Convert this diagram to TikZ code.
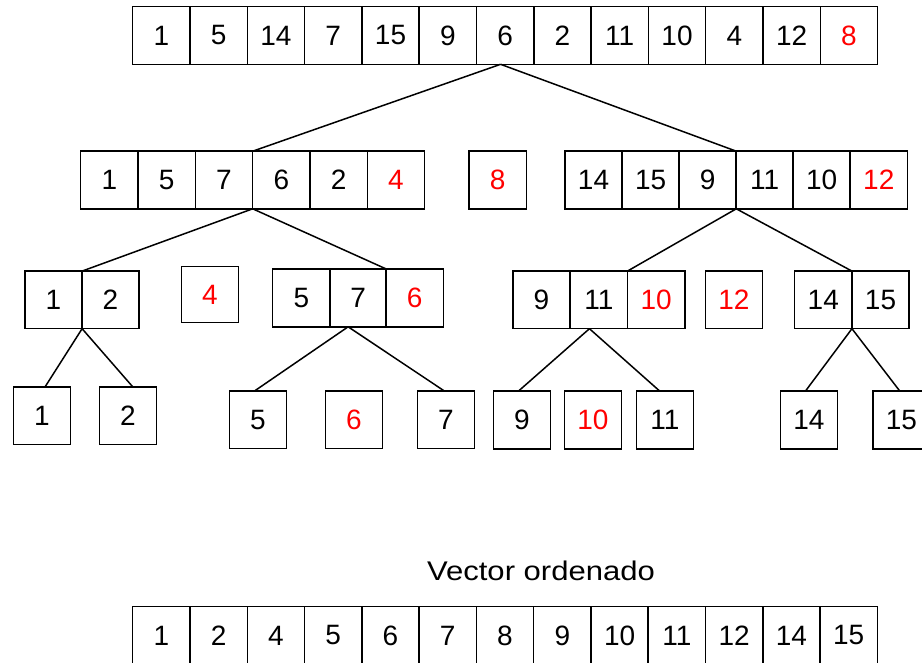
\documentclass[tikz,border=0pt]{standalone}
\usepackage{fontspec}
\usepackage{graphicx}
\setmainfont{Liberation Sans}
\newcommand\cellfont{\fontsize{28}{30}\selectfont}
\newcommand\titlefont{\fontsize{27}{30}\selectfont}
\definecolor{pivot}{RGB}{255,0,0}
\tikzset{
  cell/.style={draw, line width=1.5pt, minimum width=57.3pt, minimum height=57.6pt,
               inner sep=0pt, outer sep=0pt, font=\cellfont},
  link/.style={line width=1.5pt},
}
\begin{document}
\begin{tikzpicture}[x=1pt,y=-1pt]
\useasboundingbox (0,0) rectangle (922,663);
\clip (0,0) rectangle (922,663);

% input vector
\foreach \v/\c [count=\i] in {1/black,5/black,14/black,7/black,15/black,9/black,6/black,2/black,11/black,10/black,4/black,12/black,8/pivot}
  \node[cell, text=\c] (T-\i) at ({132.7+(\i-0.5)*57.3},35.5) {\v};

% first partition
\foreach \v/\c [count=\i] in {1/black,5/black,7/black,6/black,2/black,4/pivot}
  \node[cell, text=\c] (L-\i) at ({80.7+(\i-0.5)*57.33},180) {\v};
\node[cell, text=pivot] (P8) at (497.7,180) {8};
\foreach \v/\c [count=\i] in {14/black,15/black,9/black,11/black,10/black,12/pivot}
  \node[cell, text=\c] (R-\i) at ({565+(\i-0.5)*57.05},180) {\v};

% second partition
\foreach \v/\c [count=\i] in {1/black,2/black}
  \node[cell, text=\c] (A-\i) at ({25+(\i-0.5)*56.9},299.9) {\v};
\node[cell, text=pivot, minimum height=56pt] (P4) at (209.9,294.7) {4};
\foreach \v/\c [count=\i] in {5/black,7/black,6/pivot}
  \node[cell, text=\c] (B-\i) at ({273+(\i-0.5)*56.7},298) {\v};
\foreach \v/\c [count=\i] in {9/black,11/black,10/pivot}
  \node[cell, text=\c] (C-\i) at ({512.7+(\i-0.5)*57.4},299.9) {\v};
\node[cell, text=pivot] (P12) at (733.9,299.9) {12};
\foreach \v/\c [count=\i] in {14/black,15/black}
  \node[cell, text=\c] (E-\i) at ({794.7+(\i-0.5)*57.2},299.9) {\v};

% single elements
\node[cell] (S1) at (41.9,415.9) {1};
\node[cell] (S2) at (127.9,415.9) {2};
\node[cell] (S5) at (257.9,419.9) {5};
\node[cell, text=pivot] (S6) at (354,419.9) {6};
\node[cell] (S7) at (446,419.9) {7};
\node[cell] (S9) at (521.9,420) {9};
\node[cell, text=pivot] (S10) at (592.9,420) {10};
\node[cell] (S11) at (664.9,420) {11};
\node[cell] (S14) at (808.9,420) {14};
\node[cell] (S15) at (901.4,420) {15};

% recursion links
\draw[link] (T-7.261) -- (L-3.north east);
\draw[link] (T-7.261) -- (R-3.north east);
\draw[link] (L-3.south east) -- (A-1.north east);
\draw[link] (L-3.south east) -- (B-2.north east);
\draw[link] (R-3.south east) -- (C-2.north east);
\draw[link] (R-3.south east) -- (E-1.north east);
\draw[link] (A-1.south east) -- (S1.84);
\draw[link] (A-1.south east) -- (S2.80);
\draw[link] (B-2.251) -- (S5.97);
\draw[link] (B-2.251) -- (S7.93);
\draw[link] (C-2.252) -- (S9.97);
\draw[link] (C-2.252) -- (S11.100);
\draw[link] (E-1.south east) -- (S14.97);
\draw[link] (E-1.south east) -- (S15.93);

% sorted result
\node[anchor=base, font=\titlefont, inner sep=0pt] (title) at (541,580) {\scalebox{1.15}[1]{Vector ordenado}};
\foreach \v [count=\i] in {1,2,4,5,6,7,8,9,10,11,12,14,15}
  \node[cell] (O-\i) at ({132.7+(\i-0.5)*57.28},635.5) {\v};
\end{tikzpicture}
\end{document}
